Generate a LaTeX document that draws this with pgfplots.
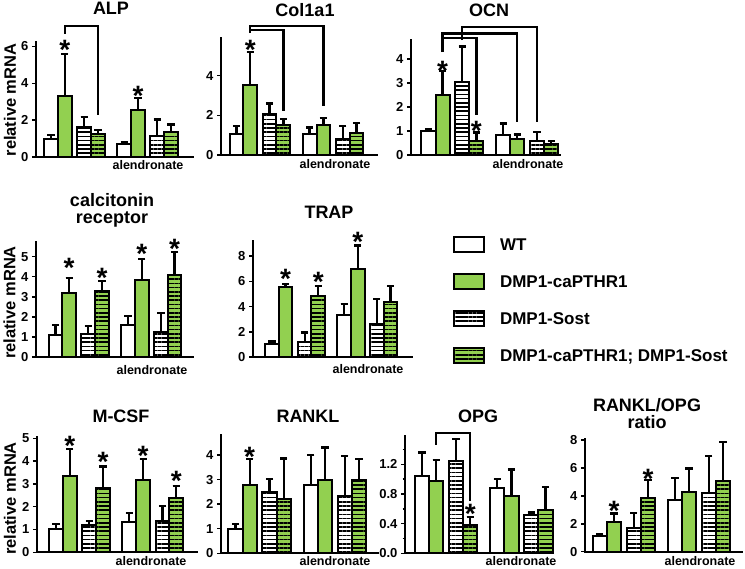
\documentclass[border=0pt]{standalone}
\usepackage{fontspec}
\setmainfont{Liberation Sans}
\usepackage{pgfplots}
\pgfplotsset{compat=1.18}
\usetikzlibrary{patterns.meta}
\definecolor{grn}{RGB}{146,208,80}
\pgfplotsset{
  panel/.style={scale only axis, anchor=south west, axis lines=left,
    axis line style={-, line width=2.2pt, line cap=rect},
    ymin=0, xtick=\empty, clip=false, tick align=outside,
    major tick length=4pt, minor tick length=2.5pt,
    ytick style={line width=1.5pt, black},
    /pgf/number format/assume math mode=true,
    yticklabel style={font=\fontsize{13}{13}\selectfont\bfseries},
  },
  barbase/.style={ybar, bar width=1, bar shift=0pt, draw=black, line width=2pt,
    error bars/y dir=plus, error bars/y explicit,
    error bars/draw error bar/.code 2 args={%
      \draw[line width=2.3pt, black, solid, line cap=butt] ##1 -- ##2;
      \draw[line width=2.3pt, black, solid, line cap=butt] ##2 ++(-3.6pt,0) -- ++(7.2pt,0);},
    legend image code/.code={\draw[##1] (0pt,-7.5pt) rectangle (30pt,7.5pt);}},
  wt/.style={barbase, fill=white},
  ca/.style={barbase, fill=grn},
  so/.style={barbase, fill=white, postaction={pattern={Lines[angle=0,distance=4.2pt,line width=1.7pt]}, pattern color=black}},
  cs/.style={barbase, fill=grn, postaction={pattern={Lines[angle=0,distance=4.2pt,line width=1.7pt]}, pattern color=black}},
  stars/.style={draw=none, mark=none, forget plot, nodes near coords={*},
    every node near coord/.style={font=\fontsize{28}{28}\selectfont\bfseries, anchor=base, yshift=-16pt, inner sep=0pt}},
  brk/.style={black, line width=2.2pt, mark=none, forget plot, line join=miter, sharp plot},
}
\tikzset{
  ttl/.style={font=\fontsize{18}{17}\selectfont\bfseries, inner sep=0pt, align=center},
  ylab/.style={font=\fontsize{16.5}{16.5}\selectfont\bfseries, inner sep=0pt, rotate=90},
  alen/.style={font=\fontsize{12.5}{12.5}\selectfont\bfseries, inner sep=0pt, anchor=base},
}
\begin{document}
\begin{tikzpicture}
\useasboundingbox (0pt,0pt) rectangle (745pt,569pt);

% ---------------- ALP
\begin{axis}[panel, at={(36pt,412pt)}, width=157pt, height=115pt,
  xmin=-1.09, xmax=10.29, ymax=6.24, ytick={0,2,4,6}]
\addplot[wt] coordinates {(0,1.0) +- (0,0.18) (5.3,0.69) +- (0,0.12)};
\addplot[ca] coordinates {(1,3.31) +- (0,2.29) (6.3,2.53) +- (0,0.67)};
\addplot[so] coordinates {(2.4,1.63) +- (0,0.54) (7.7,1.14) +- (0,0.89)};
\addplot[cs] coordinates {(3.4,1.27) +- (0,0.18) (8.7,1.37) +- (0,0.40)};
\addplot[stars] coordinates {(1,6.15) (6.3,3.65)};
\addplot[brk] coordinates {(1,6.69) (1,7.09) (3.4,7.09) (3.4,2.26)};
\end{axis}

% ---------------- Col1a1
\begin{axis}[panel, at={(221pt,414pt)}, width=156pt, height=117pt,
  xmin=-1.12, xmax=10.18, ymax=5.9, ytick={0,2,4}]
\addplot[wt] coordinates {(0,1.06) +- (0,0.39) (5.3,1.06) +- (0,0.33)};
\addplot[ca] coordinates {(1,3.55) +- (0,1.63) (6.3,1.5) +- (0,0.37)};
\addplot[so] coordinates {(2.4,2.08) +- (0,0.51) (7.7,0.81) +- (0,0.64)};
\addplot[cs] coordinates {(3.4,1.5) +- (0,0.32) (8.7,1.11) +- (0,0.5)};
\addplot[stars] coordinates {(1,5.61)};
\addplot[brk] coordinates {(1,6.15) (1,6.52) (6.3,6.52) (6.3,2.45)};
\addplot[brk] coordinates {(1,6.29) (3.4,6.29) (3.4,2.2)};
\end{axis}

% ---------------- OCN
\begin{axis}[panel, at={(411pt,414pt)}, width=149pt, height=115pt,
  xmin=-1.24, xmax=9.33, ymax=4.8, ytick={0,1,2,3,4}]
\addplot[wt] coordinates {(0,0.99) +- (0,0.09) (5.3,0.82) +- (0,0.49)};
\addplot[ca] coordinates {(1,2.49) +- (0,1.01) (6.3,0.67) +- (0,0.19)};
\addplot[so] coordinates {(2.4,3.03) +- (0,1.5) (7.7,0.57) +- (0,0.39)};
\addplot[cs] coordinates {(3.4,0.57) +- (0,0.37) (8.7,0.46) +- (0,0.11)};
\addplot[stars] coordinates {(1,3.79) (3.4,1.29)};
\addplot[brk] coordinates {(2.4,4.79) (2.4,5.35) (7.7,5.35) (7.7,1.375)};
\addplot[brk] coordinates {(1,4.29) (1,5.07) (6.3,5.07) (6.3,1.375)};
\addplot[brk] coordinates {(1,4.89) (3.4,4.89) (3.4,1.67)};
\end{axis}

% ---------------- calcitonin receptor
\begin{axis}[panel, at={(36pt,212pt)}, width=157pt, height=115pt,
  xmin=-1.42, xmax=10.04, ymax=5.73, ytick={0,1,2,3,4,5}]
\addplot[wt] coordinates {(0,1.1) +- (0,0.48) (5.3,1.58) +- (0,0.47)};
\addplot[ca] coordinates {(1,3.17) +- (0,0.78) (6.3,3.85) +- (0,1.02)};
\addplot[so] coordinates {(2.4,1.15) +- (0,0.38) (7.7,1.27) +- (0,0.93)};
\addplot[cs] coordinates {(3.4,3.28) +- (0,0.52) (8.7,4.07) +- (0,1.15)};
\addplot[stars] coordinates {(1,4.75) (3.4,4.25) (6.3,5.45) (8.7,5.72)};
\end{axis}

% ---------------- TRAP (with legend)
\begin{axis}[panel, at={(253pt,212pt)}, width=159pt, height=116pt,
  xmin=-1.40, xmax=10.29, ymax=9.2, ytick={0,2,4,6,8},
  legend cell align=left,
  legend style={at={(1.258,1.047)}, anchor=north west, draw=none, fill=none,
    inner sep=0pt, outer sep=0pt, row sep=20pt,
    font=\fontsize{17}{17}\selectfont\bfseries,
    nodes={inner sep=0pt, text height=12pt, text depth=0pt},
    /tikz/every odd column/.append style={column sep=15pt}}]
\addplot[wt] coordinates {(0,1.0) +- (0,0.24) (5.3,3.34) +- (0,0.87)};
\addlegendentry{WT}
\addplot[ca] coordinates {(1,5.58) +- (0,0.21) (6.3,6.97) +- (0,1.87)};
\addlegendentry{DMP1-caPTHR1}
\addplot[so] coordinates {(2.4,1.16) +- (0,0.79) (7.7,2.6) +- (0,2.0)};
\addlegendentry{DMP1-Sost}
\addplot[cs] coordinates {(3.4,4.84) +- (0,0.79) (8.7,4.34) +- (0,1.29)};
\addlegendentry{DMP1-caPTHR1; DMP1-Sost}
\addplot[stars] coordinates {(1,6.67) (3.4,6.47) (6.3,9.65)};
\end{axis}

% ---------------- M-CSF
\begin{axis}[panel, at={(37pt,16.7pt)}, width=160pt, height=115.6pt,
  xmin=-1.38, xmax=10.2, ymax=5.07, ytick={0,1,2,3,4,5}]
\addplot[wt] coordinates {(0,1.01) +- (0,0.23) (5.3,1.33) +- (0,0.38)};
\addplot[ca] coordinates {(1,3.35) +- (0,1.18) (6.3,3.17) +- (0,0.91)};
\addplot[so] coordinates {(2.4,1.2) +- (0,0.17) (7.7,1.37) +- (0,0.66)};
\addplot[cs] coordinates {(3.4,2.81) +- (0,0.95) (8.7,2.38) +- (0,0.54)};
\addplot[stars] coordinates {(1,4.93) (3.4,4.23) (6.3,4.53) (8.7,3.42)};
\end{axis}

% ---------------- RANKL
\begin{axis}[panel, at={(221pt,15.7pt)}, width=157pt, height=117.7pt,
  xmin=-1.02, xmax=10.04, ymax=4.79, ytick={0,1,2,3,4}]
\addplot[wt] coordinates {(0,1.0) +- (0,0.19) (5.3,2.78) +- (0,1.22)};
\addplot[ca] coordinates {(1,2.78) +- (0,1.06) (6.3,2.98) +- (0,1.32)};
\addplot[so] coordinates {(2.4,2.51) +- (0,0.51) (7.7,2.35) +- (0,1.61)};
\addplot[cs] coordinates {(3.4,2.22) +- (0,1.64) (8.7,2.98) +- (0,0.86)};
\addplot[stars] coordinates {(1,4.2)};
\end{axis}

% ---------------- OPG
\begin{axis}[panel, at={(405pt,15.7pt)}, width=148pt, height=116.7pt,
  xmin=-1.2, xmax=9.23, ymax=1.573, ytick={0,0.4,0.8,1.2},
  minor ytick={0.2,0.6,1.0,1.4},
  yticklabel style={/pgf/number format/.cd, fixed, fixed zerofill, precision=1}]
\addplot[wt] coordinates {(0,1.04) +- (0,0.32) (5.3,0.88) +- (0,0.12)};
\addplot[ca] coordinates {(1,0.975) +- (0,0.285) (6.3,0.77) +- (0,0.36)};
\addplot[so] coordinates {(2.4,1.25) +- (0,0.29) (7.7,0.51) +- (0,0.04)};
\addplot[cs] coordinates {(3.4,0.38) +- (0,0.11) (8.7,0.59) +- (0,0.30)};
\addplot[stars] coordinates {(3.4,0.616)};
\addplot[brk] coordinates {(1,1.46) (1,1.62) (3.4,1.62) (3.4,0.71)};
\end{axis}

% ---------------- RANKL/OPG ratio
\begin{axis}[panel, at={(585pt,17.3pt)}, width=157pt, height=113pt,
  xmin=-1.05, xmax=10.04, ymax=8.1, ytick={0,2,4,6,8}]
\addplot[wt] coordinates {(0,1.12) +- (0,0.14) (5.3,3.7) +- (0,1.6)};
\addplot[ca] coordinates {(1,2.15) +- (0,0.59) (6.3,4.3) +- (0,1.67)};
\addplot[so] coordinates {(2.4,1.67) +- (0,1.12) (7.7,4.18) +- (0,2.67)};
\addplot[cs] coordinates {(3.4,3.82) +- (0,1.31) (8.7,5.06) +- (0,2.82)};
\addplot[stars] coordinates {(1,3.41) (3.4,5.68)};
\end{axis}

% ---------------- titles
\node[ttl, anchor=base] at (111pt,554pt) {ALP};
\node[ttl, anchor=base] at (305pt,552pt) {Col1a1};
\node[ttl, anchor=base] at (489pt,552pt) {OCN};
\node[ttl, anchor=north] at (112pt,376pt) {calcitonin\\receptor};
\node[ttl, anchor=base] at (329pt,350pt) {TRAP};
\node[ttl, anchor=base] at (121pt,146pt) {M-CSF};
\node[ttl, anchor=base] at (308pt,146pt) {RANKL};
\node[ttl, anchor=base] at (478pt,146pt) {OPG};
\node[ttl, anchor=north] at (647pt,171pt) {RANKL/OPG\\ratio};

% ---------------- y labels
\node[ylab] at (10pt,469pt) {relative mRNA};
\node[ylab] at (9.5pt,266.5pt) {relative mRNA};
\node[ylab] at (10pt,70.5pt) {relative mRNA};

% ---------------- alendronate labels
\node[alen] at (148pt,399pt) {alendronate};
\node[alen] at (335pt,400pt) {alendronate};
\node[alen] at (528pt,400pt) {alendronate};
\node[alen] at (152pt,194pt) {alendronate};
\node[alen] at (368pt,195pt) {alendronate};
\node[alen] at (151pt,3pt) {alendronate};
\node[alen] at (335pt,3pt) {alendronate};
\node[alen] at (521pt,3pt) {alendronate};
\node[alen] at (700pt,3pt) {alendronate};
\end{tikzpicture}
\end{document}
